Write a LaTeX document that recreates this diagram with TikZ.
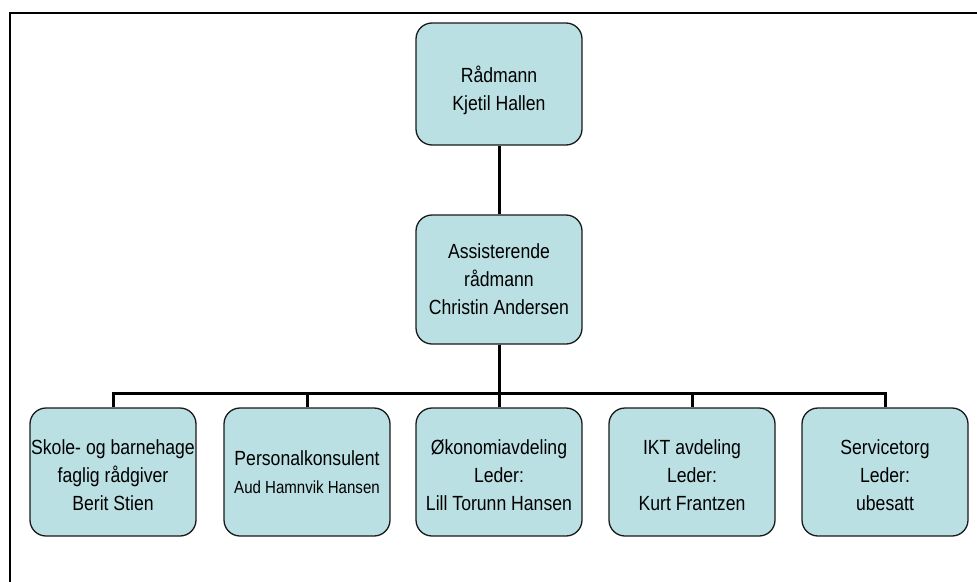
\documentclass[tikz,border=0pt]{standalone}
\usepackage{fontspec}
\newfontfamily\arialf[FakeStretch=0.86]{Liberation Sans}
\definecolor{boxfill}{RGB}{187,224,227}
\definecolor{boxline}{RGB}{25,25,25}
\tikzset{
  orgbox/.style={draw=boxline, line width=1.3pt, fill=boxfill, rounded corners=16pt,
    minimum width=166pt, minimum height=#1, inner sep=0pt, align=center,
    font=\arialf\fontsize{20.5}{28}\selectfont},
  conn/.style={draw=black, line width=3pt},
  frameline/.style={draw=black, line width=2pt}
}
\newcommand{\lowerby}[1]{\rule{0pt}{#1}}
\begin{document}
\begin{tikzpicture}[x=1pt,y=-1pt]
\useasboundingbox (0,0) rectangle (977,581);
\draw[frameline] (10,585) -- (10,12.5) -- (980,12.5);
\node[orgbox=122pt] (top) at (499,84) {\lowerby{29pt}Rådmann\\Kjetil Hallen};
\node[orgbox=129pt] (mid) at (499,279.5) {Assisterende\\rådmann\\Christin Andersen};
\node[orgbox=128pt] (b1) at (113,472) {\lowerby{21pt}Skole- og barnehage\\faglig rådgiver\\Berit Stien};
\node[orgbox=128pt] (b2) at (307,472) {Personalkonsulent\\{\fontsize{17.5}{28}\selectfont Aud Hamnvik Hansen}};
\node[orgbox=128pt] (b3) at (499,472) {\lowerby{21pt}Økonomiavdeling\\Leder:\\Lill Torunn Hansen};
\node[orgbox=128pt] (b4) at (692,472) {\lowerby{21pt}IKT avdeling\\Leder:\\Kurt Frantzen};
\node[orgbox=128pt] (b5) at (885,472) {\lowerby{21pt}Servicetorg\\Leder:\\ubesatt};
\coordinate (bus) at (499,393);
\draw[conn] (top.south) -- (mid.north);
\foreach \b in {b1,b2,b3,b4,b5}{
  \draw[conn] (mid.south) -- (mid.south |- bus) -| (\b.north);
}
\end{tikzpicture}
\end{document}
